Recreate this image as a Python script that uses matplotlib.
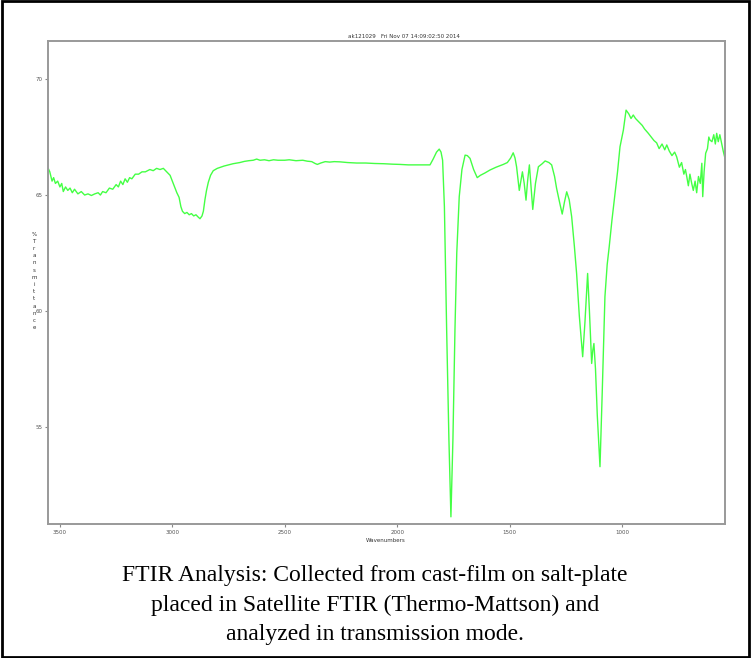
import matplotlib
matplotlib.use("Agg")
import matplotlib.pyplot as plt
from matplotlib.patches import Rectangle

# ---- data ----
wavenumbers = [
    3552, 3545, 3535, 3528, 3520, 3510, 3500, 3492, 3485, 3475, 3465, 3455, 3445, 3435,
    3420, 3405, 3390, 3375, 3360, 3345, 3330, 3320, 3310, 3295, 3280, 3265, 3250, 3240,
    3230, 3220, 3210, 3200, 3190, 3180, 3165, 3150, 3135, 3120, 3100, 3085, 3070, 3055,
    3040, 3030, 3020, 3010, 3000, 2990, 2980, 2970, 2962, 2955, 2945, 2935, 2925, 2915,
    2905, 2895, 2885, 2877, 2868, 2862, 2855, 2848, 2840, 2830, 2818, 2800, 2785, 2770,
    2750, 2730, 2700, 2680, 2660, 2640, 2625, 2610, 2590, 2570, 2550, 2530, 2500, 2480,
    2450, 2420, 2400, 2380, 2365, 2355, 2340, 2320, 2300, 2280, 2254, 2220, 2180, 2140,
    2100, 2060, 2020, 1988, 1950, 1900, 1870, 1854, 1840, 1825, 1813, 1805, 1798, 1790,
    1780, 1770, 1761, 1752, 1743, 1735, 1724, 1712, 1698, 1688, 1676, 1660, 1644, 1630,
    1610, 1587, 1560, 1528, 1510, 1495, 1484, 1476, 1469, 1457, 1450, 1443, 1435, 1427,
    1420, 1412, 1405, 1397, 1385, 1372, 1355, 1342, 1325, 1313, 1300, 1291, 1278, 1266,
    1256, 1246, 1235, 1224, 1212, 1202, 1190, 1175, 1165, 1153, 1145, 1135, 1130, 1125,
    1118, 1110, 1098, 1088, 1076, 1066, 1057, 1045, 1031, 1020, 1009, 994, 982, 970,
    960, 950, 940, 925, 910, 900, 883, 870, 858, 846, 835, 822, 810, 801, 790, 778,
    766, 757, 745, 735, 725, 718, 712, 705, 698, 690, 683, 675, 668, 660, 652, 645,
    641, 635, 628, 620, 614, 609, 600, 592, 585, 579, 572, 565, 557, 550, 542,
]
transmittance = [
    66.15, 66.0, 65.6, 65.75, 65.5, 65.6, 65.35, 65.5, 65.15, 65.35, 65.2, 65.3, 65.1, 65.25,
    65.05, 65.15, 65.0, 65.05, 64.98, 65.05, 65.1, 65.0, 65.15, 65.1, 65.3, 65.25, 65.45, 65.35,
    65.6, 65.45, 65.7, 65.55, 65.75, 65.7, 65.9, 65.9, 66.0, 66.0, 66.1, 66.05, 66.15, 66.1,
    66.15, 66.05, 65.95, 65.85, 65.6, 65.35, 65.1, 64.9, 64.5, 64.3, 64.2, 64.25, 64.15, 64.2,
    64.1, 64.15, 64.05, 63.98, 64.1, 64.3, 64.8, 65.2, 65.55, 65.85, 66.05, 66.15, 66.2, 66.25,
    66.3, 66.35, 66.4, 66.45, 66.48, 66.5, 66.55, 66.5, 66.52, 66.48, 66.52, 66.5, 66.5, 66.52,
    66.48, 66.5, 66.46, 66.44, 66.36, 66.32, 66.38, 66.44, 66.42, 66.44, 66.43, 66.4, 66.38, 66.38,
    66.36, 66.35, 66.33, 66.32, 66.3, 66.3, 66.3, 66.3, 66.55, 66.85, 66.98, 66.85, 66.5, 64.5,
    59.2, 54.5, 51.13, 54.5, 59.2, 62.5, 64.93, 66.1, 66.72, 66.7, 66.58, 66.1, 65.75, 65.85,
    65.95, 66.08, 66.2, 66.32, 66.4, 66.6, 66.82, 66.6, 66.22, 65.2, 65.6, 66.0, 65.5, 64.78,
    65.6, 66.3, 65.4, 64.38, 65.5, 66.22, 66.35, 66.47, 66.4, 66.3, 65.8, 65.29, 64.7, 64.18,
    64.7, 65.14, 64.8, 64.07, 62.8, 61.62, 59.8, 58.03, 59.5, 61.62, 60.0, 57.74, 58.3, 58.6,
    57.5, 55.5, 53.29, 56.5, 60.62, 62.0, 62.77, 63.9, 65.07, 66.0, 67.08, 67.8, 68.66, 68.5,
    68.3, 68.45, 68.3, 68.15, 68.0, 67.85, 67.66, 67.5, 67.35, 67.25, 67.0, 67.2, 66.95, 67.16, 66.9, 66.7,
    66.85, 66.65, 66.2, 66.4, 65.9, 66.1, 65.79, 65.4, 65.9, 65.5, 65.2, 65.6, 65.1, 65.8, 65.5, 66.37,
    64.93, 66.0, 66.8, 67.0, 67.5, 67.37, 67.3, 67.6, 67.2, 67.66, 67.3, 67.6, 67.23, 66.9, 66.58,
]
x_ticks = [3500, 3000, 2500, 2000, 1500, 1000]
y_ticks = [55, 60, 65, 70]
header = "ak121029   Fri Nov 07 14:09:02:50 2014"
x_label = "Wavenumbers"
y_label = "% Transmittance"
caption = ("FTIR Analysis: Collected from cast-film on salt-plate\n"
           "placed in Satellite FTIR (Thermo-Mattson) and\n"
           "analyzed in transmission mode.")

W, H = 751, 658
fig = plt.figure(figsize=(W / 100, H / 100), dpi=100)
fig.patch.set_facecolor("white")

ax = fig.add_axes([48 / W, 1 - 524 / H, (725 - 48) / W, (524 - 41) / H])
ax.plot(wavenumbers, transmittance, color="#44ff44", lw=1.0)
ax.set_xlim(3553, 542)
ax.set_ylim(50.82, 71.64)
ax.set_xticks(x_ticks)
ax.set_yticks(y_ticks)
ax.tick_params(axis="both", labelsize=4, colors="#888888", labelcolor="#555555",
               length=2.5, width=0.8, pad=1.5)
for s in ax.spines.values():
    s.set_color("#999999")
    s.set_linewidth(1.4)

fig.text(404 / W, 1 - 37 / H, header, fontsize=4, color="#333333",
         ha="center", va="center")
fig.text(386 / W, 1 - 540 / H, x_label, fontsize=4, color="#333333",
         ha="center", va="center")
# stacked vertical y-label
stacked = "\n".join(ch for ch in y_label if ch != " ")
fig.text(34 / W, 1 - 281 / H, stacked, fontsize=4, color="#333333",
         ha="center", va="center", linespacing=1.55)

fig.text(375 / W, 1 - 605 / H, caption, fontsize=17, family="Liberation Serif",
         ha="center", va="center", linespacing=1.55, color="black")

# outer black border
fig.patches.append(Rectangle((0.002, 0.002), 0.996, 0.996, transform=fig.transFigure,
                             fill=False, edgecolor="black", linewidth=2))

fig.savefig("out.png", dpi=100)
